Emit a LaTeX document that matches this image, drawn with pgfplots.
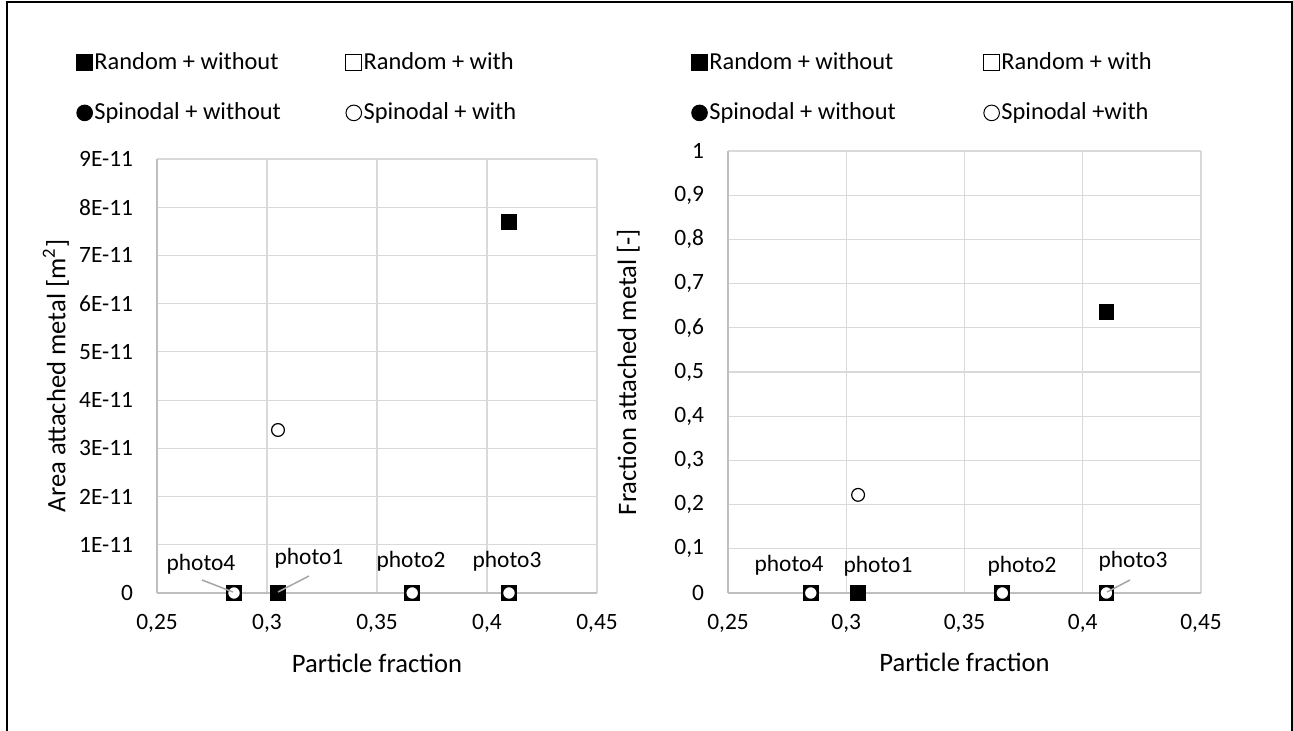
\documentclass[border=0pt]{standalone}
\usepackage{pgfplots}
\pgfplotsset{compat=1.18}
\usepackage{fontspec}
\setmainfont{Carlito}
\definecolor{gridc}{HTML}{D9D9D9}
\definecolor{axc}{HTML}{BFBFBF}
\definecolor{leadc}{HTML}{A6A6A6}
\newcommand{\pxc}[2]{({(#1)*0.5pt},{(731-(#2))*0.5pt})}
\newcommand{\tickfont}{\fontsize{11.7}{14}\selectfont}
\newcommand{\legfont}{\fontsize{12.2}{14}\selectfont}
\newcommand{\titfont}{\fontsize{13.3}{16}\selectfont}
\pgfplotsset{
  myax/.style={
    scale only axis, clip=false,
    axis x line*=bottom, axis y line*=left,
    axis line style={axc, line width=0.9pt},
    grid=major, grid style={gridc, line width=0.6pt},
    major tick length=0pt,
    scaled y ticks=false, scaled x ticks=false,
    tick label style={font=\tickfont},
    /pgf/number format/assume math mode=true,
    xticklabel style={anchor=center, inner sep=0pt, yshift=-15.3pt},
    yticklabel style={anchor=east, inner sep=0pt, xshift=-11.8pt},
    xmin=0.25, xmax=0.45,
    xtick={0.25,0.3,0.35,0.4,0.45},
    xticklabels={{0,25},{0,3},{0,35},{0,4},{0,45}},
    label style={font=\titfont},
    legend columns=2,
    legend style={draw=none, fill=none, inner sep=0pt, font=\legfont,
      row sep=13.3pt, nodes={inner sep=1pt}},
    legend cell align=left,
    legend image code/.code={\draw[##1] plot coordinates {(3pt,0pt)};},
    legend image post style={mark size=3.9pt, line width=0.5pt},
    /tikz/every odd column/.append style={column sep=0pt},
  },
  rwo/.style={only marks, mark=square*, draw=black, fill=black, mark size=3.7pt, line width=0.4pt},
  rw/.style={only marks, mark=square*, draw=black, fill=white, mark size=3.2pt, line width=1.5pt},
  swo/.style={only marks, mark=*, draw=black, fill=black, mark size=3.2pt, line width=0.4pt},
  sw/.style={only marks, mark=*, draw=black, fill=white, mark size=3.2pt, line width=0.6pt},
}
\begin{document}
\begin{tikzpicture}
\useasboundingbox (0,0) rectangle (646.5pt,365.5pt);
\draw[line width=1pt] (3.5pt,-5pt) -- (3.5pt,364.5pt) -- (646pt,364.5pt) -- (646pt,-5pt);

% ---------- left panel ----------
\begin{axis}[myax,
  at={(78.5pt,69pt)}, anchor=south west, width=220pt, height=217pt,
  ymin=0, ymax=9e-11,
  ytick={0,1e-11,2e-11,3e-11,4e-11,5e-11,6e-11,7e-11,8e-11,9e-11},
  yticklabels={0,1E-11,2E-11,3E-11,4E-11,5E-11,6E-11,7E-11,8E-11,9E-11},
  xlabel={Particle fraction},
  ylabel={Area attached metal [m\textsuperscript{2}]},
  xlabel style={at={(axis description cs:0.5,-0.161)}, anchor=center},
  ylabel style={at={(axis description cs:-0.230,0.5)}, anchor=center},
  legend style={at={(axis description cs:-0.183,1.2512)}, anchor=north west},
  /tikz/every even column/.append style={column sep=31.5pt},
  legend entries={Random + without, Random + with, Spinodal + without, Spinodal + with},
]
\addplot[rwo] coordinates {(0.305,0) (0.41,7.7e-11)};
\addplot[rw] coordinates {(0.285,0) (0.366,0) (0.41,0)};
\addlegendimage{swo}
\addplot[sw] coordinates {(0.285,0) (0.305,3.38e-11) (0.366,0) (0.41,0)};
\end{axis}

% ---------- right panel ----------
\begin{axis}[myax,
  at={(364pt,69pt)}, anchor=south west, width=236.5pt, height=221pt,
  ymin=0, ymax=1,
  ytick={0,0.1,0.2,0.3,0.4,0.5,0.6,0.7,0.8,0.9,1},
  yticklabels={0,{0,1},{0,2},{0,3},{0,4},{0,5},{0,6},{0,7},{0,8},{0,9},1},
  xlabel={Particle fraction},
  ylabel={Fraction attached metal [-]},
  xlabel style={at={(axis description cs:0.5,-0.158)}, anchor=center},
  ylabel style={at={(axis description cs:-0.211,0.5)}, anchor=center},
  legend style={at={(axis description cs:-0.0775,1.2285)}, anchor=north west},
  /tikz/every even column/.append style={column sep=43pt},
  legend entries={Random + without, Random + with, Spinodal + without, Spinodal +with},
]
\addplot[rwo] coordinates {(0.305,0) (0.41,0.636)};
\addplot[rw] coordinates {(0.285,0) (0.366,0) (0.41,0)};
\addlegendimage{swo}
\addplot[sw] coordinates {(0.285,0) (0.305,0.222) (0.366,0) (0.41,0)};
\end{axis}

% ---------- data labels ----------
\begin{scope}[every node/.style={font=\tickfont, inner sep=0pt}]
\node at \pxc{201}{564} {photo4};
\node at \pxc{309}{558} {photo1};
\node at \pxc{411}{561} {photo2};
\node at \pxc{507}{561} {photo3};
\draw[leadc, line width=0.75pt] \pxc{202}{580} -- \pxc{233}{592};
\draw[leadc, line width=0.75pt] \pxc{309}{576} -- \pxc{278}{592};
\node at \pxc{789}{565} {photo4};
\node at \pxc{878}{566} {photo1};
\node at \pxc{1022}{566} {photo2};
\node at \pxc{1133}{561} {photo3};
\draw[leadc, line width=0.75pt] \pxc{1130}{580} -- \pxc{1107}{592};
\end{scope}
\end{tikzpicture}
\end{document}
